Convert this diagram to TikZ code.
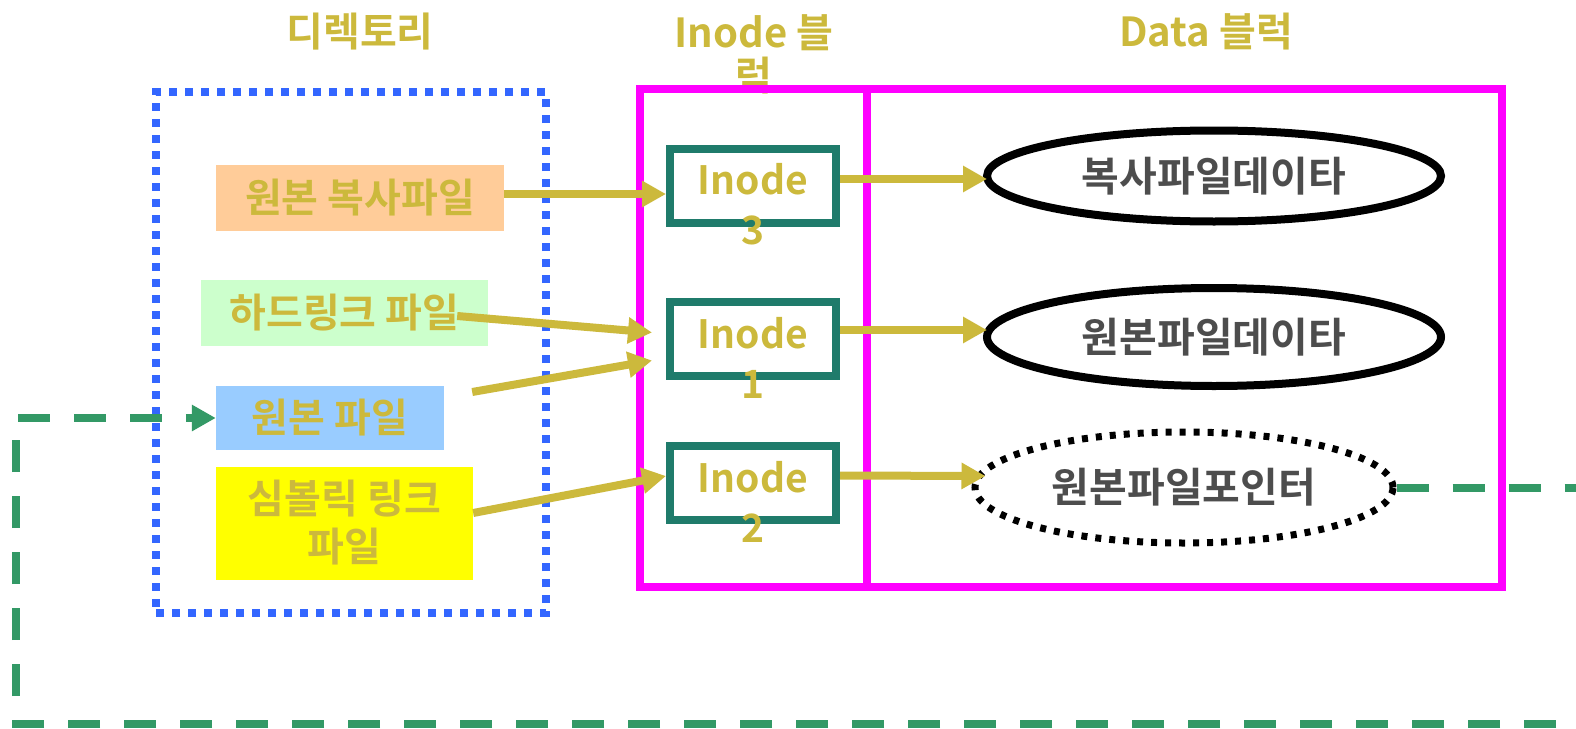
\documentclass[tikz,border=0pt]{standalone}
\usepackage{fontspec}
\setmainfont{Noto Sans CJK KR}[BoldFont={Noto Sans CJK KR Bold}]
\usetikzlibrary{arrows.meta,shapes.geometric,calc}
\definecolor{gold}{RGB}{204,185,60}
\definecolor{teal2}{RGB}{31,123,107}
\definecolor{mag}{RGB}{255,0,255}
\definecolor{dblue}{RGB}{51,102,255}
\definecolor{dgreen}{RGB}{51,153,102}
\definecolor{peach}{RGB}{255,204,153}
\definecolor{lgreen}{RGB}{204,255,204}
\definecolor{lblue}{RGB}{153,204,255}
\definecolor{yel}{RGB}{255,255,0}
\definecolor{greytext}{RGB}{77,77,77}
\begin{document}
\begin{tikzpicture}[x=1pt,y=-1pt,
  bigtext/.style={font=\bfseries\fontsize{40}{48}\selectfont},
  ttl/.style={bigtext,text=gold,align=center,inner sep=0pt},
  filebox/.style={rectangle,draw=none,inner sep=0pt,bigtext,text=gold,align=center},
  inodebox/.style={rectangle,draw=teal2,line width=8pt,fill=white,minimum width=166pt,minimum height=74pt,inner sep=0pt},
  inodetext/.style={text=gold,align=center,inner sep=0pt,font=\bfseries\fontsize{39}{50}\selectfont},
  blockbox/.style={rectangle,draw=mag,line width=8pt,inner sep=0pt},
  dirbox/.style={rectangle,draw=dblue,line width=8pt,dash pattern=on 8pt off 8pt,inner sep=0pt},
  dataell/.style={ellipse,draw=black,line width=8pt,inner sep=0pt,text=greytext,font=\bfseries\fontsize{41}{48}\selectfont},
  ptrell/.style={dataell,line width=7pt,dash pattern=on 6pt off 8pt},
  garrow/.style={draw=gold,line width=8pt,-{Triangle[length=24pt,width=25pt]}},
  linkline/.style={draw=dgreen,line width=8pt,dash pattern=on 32pt off 24pt}
]
\useasboundingbox (0,0) rectangle (1576,728);
\fill[white] (0,0) rectangle (1576,728);

% titles
\node[ttl] (tdir) at (360,32) {디렉토리};
\node[ttl,font=\bfseries\fontsize{40}{43}\selectfont] (tinode) at (754,54) {Inode 블\\럭};
\node[ttl] (tdata) at (1206,32) {Data 블럭};

% containers
\node[dirbox,minimum width=390pt,minimum height=521pt] (dir) at (351,352.5) {};
\node[blockbox,minimum width=227pt,minimum height=498pt] (iblk) at (753.5,338) {};
\node[blockbox,minimum width=635pt,minimum height=498pt] (dblk) at (1184.5,338) {};

% directory entries
\node[filebox,fill=peach,minimum width=288pt,minimum height=66pt] (b1) at (360,198) {원본 복사파일};
\node[filebox,fill=lgreen,minimum width=287pt,minimum height=66pt] (b2) at (344.5,313) {하드링크 파일};
\node[filebox,fill=lblue,minimum width=228pt,minimum height=64pt] (b3) at (330,418) {원본 파일};
\node[filebox,fill=yel,minimum width=257pt,minimum height=113pt] (b4) at (344.5,523) {심볼릭 링크\\파일};

% inode boxes
\node[inodebox] (i3) at (753,185.5) {};
\node[inodebox] (i1) at (753,338.5) {};
\node[inodebox] (i2) at (753,483) {};
\node[inodetext] (i3t) at (753,204.5) {Inode\\3};
\node[inodetext] (i1t) at (753,357.5) {Inode\\1};
\node[inodetext] (i2t) at (753,502) {Inode\\2};

% data ellipses
\node[dataell,minimum width=454pt,minimum height=91pt] (e1) at (1214,176) {복사파일데이타};
\node[dataell,minimum width=454pt,minimum height=98pt] (e2) at (1214,337) {원본파일데이타};
\node[ptrell,minimum width=418pt,minimum height=111pt] (e3) at (1184,487.5) {원본파일포인터};

% arrows directory -> inode
\draw[garrow] ([yshift=4pt]b1.east) -- ([yshift=4pt]b1.east -| i3.west);
\draw[garrow] ($(b2.east)+(-31,3)$) -- ($(i1.west)+(-14,-6)$);
\draw[garrow] ($(b3.east)+(28,-26)$) -- ($(i1.west)+(-14,22)$);
\draw[garrow] ($(b4.east)+(0,-10)$) -- ($(i2.west)+(0,-7)$);

% arrows inode -> data
\draw[garrow] ($(i3.east)+(0,-6.5)$) -- ($(e1.west)+(4,3)$);
\draw[garrow] ($(i1.east)+(0,-8.5)$) -- ($(e2.west)+(4,-7)$);
\draw[garrow] ($(i2.east)+(0,-7.5)$) -- ($(e3.west)+(14,-11.5)$);

% symbolic link loop
\coordinate (g1) at (1610,487.5);
\coordinate (g2) at (1610,724);
\coordinate (g3) at (16,724);
\coordinate (g4) at (16,418);
\draw[linkline] (e3.east) -- (g1) -- (g2) -- (g3) -- (g4) -- ([xshift=-24pt]b3.west |- g4);
\draw[draw=dgreen,line width=8pt,-{Triangle[length=24pt,width=25pt]}] ([xshift=-30pt]b3.west |- g4) -- (b3.west |- g4);
\end{tikzpicture}
\end{document}
